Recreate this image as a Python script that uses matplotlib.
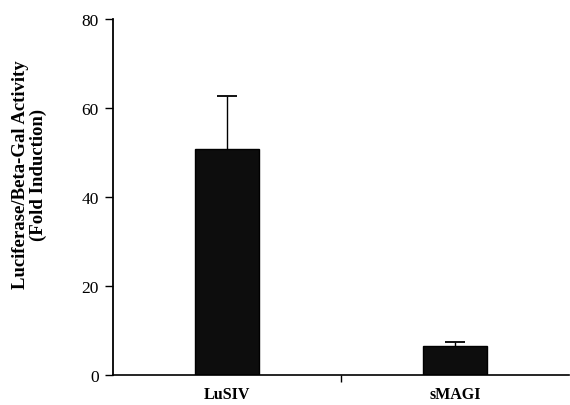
import numpy as np
import matplotlib.pyplot as plt

CATEGORIES = ['LuSIV', 'sMAGI']
FOLD_INDUCTION = [50.8, 6.4]
ERR_UP = [11.9, 1.0]

plt.rcParams['font.family'] = ['Liberation Serif', 'DejaVu Serif']

def main():
    fig = plt.figure(figsize=(5.7, 4.06), dpi=100)
    ax = fig.add_axes([0.198, 0.074, 0.80, 0.877])

    x = np.arange(len(CATEGORIES))
    vals = np.array(FOLD_INDUCTION)
    tops = vals + np.array(ERR_UP)
    ax.bar(x, vals, width=0.28, color='#0d0d0d', edgecolor='black', linewidth=1, zorder=2)
    # upper-only error bars, Excel style
    ax.vlines(x, vals, tops, color='black', linewidth=1, zorder=3)
    ax.hlines(tops, x - 0.045, x + 0.045, color='black', linewidth=1.3, zorder=3)

    ax.set_xlim(-0.5, 1.5)
    ax.set_ylim(0, 80)
    ax.set_yticks([0, 20, 40, 60, 80])
    ax.tick_params(axis='y', direction='out', length=6, width=1, labelsize=12.5, pad=4)

    ax.set_xticks([0.5])
    ax.set_xticklabels([''])
    ax.tick_params(axis='x', direction='out', length=5, width=1)
    for xi, name in zip(x, CATEGORIES):
        ax.text(xi, -4.2, name, ha='center', va='center', fontsize=11.5, fontweight='bold')

    ax.spines['top'].set_visible(False)
    ax.spines['right'].set_visible(False)
    ax.spines['left'].set_linewidth(1.3)
    ax.spines['bottom'].set_linewidth(1.2)

    ax.set_ylabel('Luciferase/Beta-Gal Activity\n(Fold Induction)', fontsize=13.5,
                  fontweight='bold', linespacing=1.05)
    ax.yaxis.set_label_coords(-0.145, 0.565)

    plt.savefig('out.png', dpi=100)

if __name__ == '__main__':
    main()
